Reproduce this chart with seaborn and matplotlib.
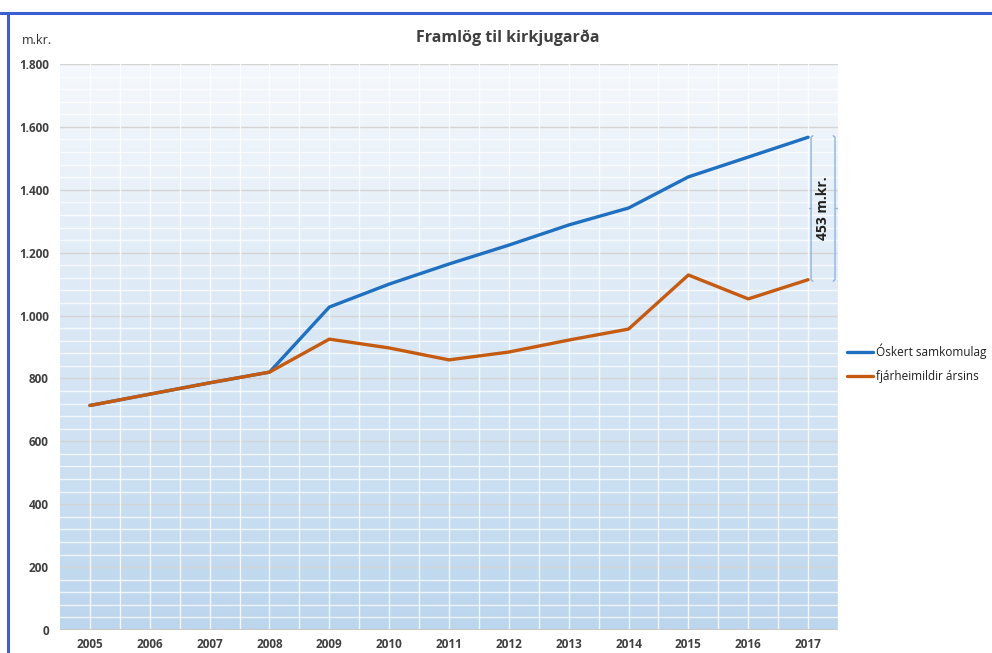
import numpy as np
import pandas as pd
import matplotlib
matplotlib.use("Agg")
import matplotlib.pyplot as plt
import seaborn as sns
from matplotlib.lines import Line2D
from matplotlib.ticker import FuncFormatter, MultipleLocator

years = ["2005", "2006", "2007", "2008", "2009", "2010", "2011",
         "2012", "2013", "2014", "2015", "2016", "2017"]
oskert = [714, 750, 786, 820, 1027, 1100, 1164, 1224, 1288, 1342, 1441, 1504, 1567]
fjarheimildir = [714, 750, 786, 820, 925, 897, 859, 884, 922, 957, 1129, 1053, 1114]
series_names = ["Óskert samkomulag", "fjárheimildir ársins"]
gap_label = "453 m.kr."

BLUE = "#1f70c1"
ORANGE = "#c55a11"
FONT = ["Open Sans", "DejaVu Sans"]

sns.set_style("white")
plt.rcParams["font.family"] = FONT

df = pd.DataFrame({
    "year": years * 2,
    "pos": list(range(len(years))) * 2,
    "value": oskert + fjarheimildir,
    "series": [series_names[0]] * len(years) + [series_names[1]] * len(years),
})

fig = plt.figure(figsize=(9.92, 6.53), dpi=100)
ax = fig.add_axes([60 / 992, 1 - 630 / 653, (838 - 60) / 992, (630 - 64) / 653])

# background gradient of the plot area
grad = np.linspace(0, 1, 256).reshape(-1, 1)
cmap = matplotlib.colors.LinearSegmentedColormap.from_list("bg", ["#bcd6ee", "#f5f8fc"])
ax.imshow(grad, aspect="auto", cmap=cmap, origin="lower",
          extent=[-0.5, 12.5, 0, 1800], zorder=0)

# grid
for v in np.arange(0, 1800, 40):
    if v % 200 == 0:
        continue
    ax.axhline(v, color="white", lw=1.0, alpha=0.75, zorder=1)
for v in np.arange(200, 1801, 200):
    ax.axhline(v, color="#d4d4d4", lw=1.0, zorder=1)
for x in np.arange(0, 13, 0.5):
    ax.axvline(x, color="white", lw=1.0, alpha=0.8, zorder=1)
ax.axhline(0, color="#c8c8c8", lw=1.5, zorder=2)

sns.lineplot(data=df, x="pos", y="value", hue="series",
             palette=[BLUE, ORANGE], lw=2.4, ax=ax, legend=False, zorder=3)

ax.set_xlim(-0.5, 12.5)
ax.set_ylim(0, 1800)
ax.set_xticks(range(len(years)))
ax.set_xticklabels(years)
ax.yaxis.set_major_locator(MultipleLocator(200))
ax.yaxis.set_major_formatter(FuncFormatter(lambda v, p: f"{int(v):,}".replace(",", ".")))
ax.tick_params(axis="both", length=0, labelsize=8.5, colors="#404040")
ax.tick_params(axis="x", pad=6)
ax.tick_params(axis="y", pad=8)
for lab in ax.get_xticklabels() + ax.get_yticklabels():
    lab.set_fontweight("bold")
ax.set_xlabel("")
ax.set_ylabel("")
for s in ax.spines.values():
    s.set_visible(False)

# bracket showing the gap in 2017
top, bot = oskert[-1], fjarheimildir[-1]
mid = (top + bot) / 2
bx0, bx1 = 12.05, 12.45
bc = "#8db4e2"
ax.plot([bx0 + 0.03, bx0, bx0, bx0 + 0.03], [top + 5, top, bot, bot - 5], color=bc, lw=1, zorder=4)
ax.plot([bx0, bx0 - 0.04], [mid, mid], color=bc, lw=1, zorder=4)
ax.plot([bx1 - 0.03, bx1, bx1, bx1 - 0.03], [top + 5, top, bot, bot - 5], color=bc, lw=1, zorder=4)
ax.plot([bx1, bx1 + 0.05], [mid, mid], color=bc, lw=1, zorder=4)
ax.text((bx0 + bx1) / 2, mid, gap_label, rotation=90, ha="center", va="center",
        fontsize=10, fontweight="bold", color="#202020", zorder=5)

# legend
handles = [Line2D([], [], color=BLUE, lw=2.4), Line2D([], [], color=ORANGE, lw=2.4)]
fig.legend(handles, series_names, loc="upper left", bbox_to_anchor=(836 / 992, 1 - 333 / 653),
           frameon=False, fontsize=8.5, handlelength=2.2, handletextpad=0.3, labelspacing=0.9,
           labelcolor="#202020")

fig.text(508 / 992, 1 - 38 / 653, "Framlög til kirkjugarða", ha="center", va="center",
         fontsize=11.5, fontweight="bold", color="#404040")
fig.text(22 / 992, 1 - 40 / 653, "m.kr.", ha="left", va="center", fontsize=9, color="#303030")

# blue selection frame from the screenshot
fig.add_artist(Line2D([0, 1], [1 - 13 / 653, 1 - 13 / 653], color="#3a5fd0", lw=2.2))
fig.add_artist(Line2D([8 / 992, 8 / 992], [0, 1 - 13 / 653], color="#3a5fd0", lw=2.2))

fig.savefig("out.png", dpi=100)
